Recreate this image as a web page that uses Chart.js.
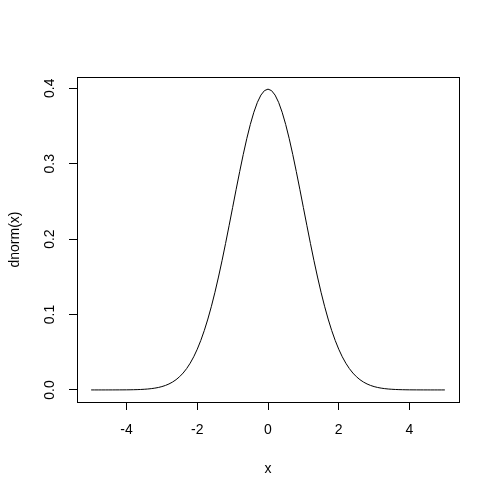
<!DOCTYPE html>
<html>
<head>
<meta charset="utf-8">
<script src="https://cdn.jsdelivr.net/npm/chart.js@4/dist/chart.umd.min.js"></script>
<style>
  body { margin: 0; background: #fff; }
  canvas { display: block; }
</style>
</head>
<body>
<canvas id="myChart" width="500" height="500"></canvas>
<script>
// curve, x from -5 to 5
var xs = [-5.0,-4.9,-4.8,-4.7,-4.6,-4.5,-4.4,-4.3,-4.2,-4.1,
  -4.0,-3.9,-3.8,-3.7,-3.6,-3.5,-3.4,-3.3,-3.2,-3.1,
  -3.0,-2.9,-2.8,-2.7,-2.6,-2.5,-2.4,-2.3,-2.2,-2.1,
  -2.0,-1.9,-1.8,-1.7,-1.6,-1.5,-1.4,-1.3,-1.2,-1.1,
  -1.0,-0.9,-0.8,-0.7,-0.6,-0.5,-0.4,-0.3,-0.2,-0.1,
  0.0,
  0.1,0.2,0.3,0.4,0.5,0.6,0.7,0.8,0.9,1.0,
  1.1,1.2,1.3,1.4,1.5,1.6,1.7,1.8,1.9,2.0,
  2.1,2.2,2.3,2.4,2.5,2.6,2.7,2.8,2.9,3.0,
  3.1,3.2,3.3,3.4,3.5,3.6,3.7,3.8,3.9,4.0,
  4.1,4.2,4.3,4.4,4.5,4.6,4.7,4.8,4.9,5.0];

var ys = [0.00000,0.00000,0.00000,0.00001,0.00001,0.00002,0.00002,0.00004,0.00006,0.00009,
  0.00013,0.00020,0.00029,0.00042,0.00061,0.00087,0.00123,0.00172,0.00238,0.00327,
  0.00443,0.00595,0.00792,0.01042,0.01358,0.01753,0.02239,0.02833,0.03547,0.04398,
  0.05399,0.06562,0.07895,0.09405,0.11092,0.12952,0.14973,0.17137,0.19419,0.21785,
  0.24197,0.26609,0.28969,0.31225,0.33322,0.35207,0.36827,0.38139,0.39104,0.39695,
  0.39894,
  0.39695,0.39104,0.38139,0.36827,0.35207,0.33322,0.31225,0.28969,0.26609,0.24197,
  0.21785,0.19419,0.17137,0.14973,0.12952,0.11092,0.09405,0.07895,0.06562,0.05399,
  0.04398,0.03547,0.02833,0.02239,0.01753,0.01358,0.01042,0.00792,0.00595,0.00443,
  0.00327,0.00238,0.00172,0.00123,0.00087,0.00061,0.00042,0.00029,0.00020,0.00013,
  0.00009,0.00006,0.00004,0.00002,0.00002,0.00001,0.00001,0.00000,0.00000,0.00000];

var xTicks = [-4, -2, 0, 2, 4];
var yTicks = [0.0, 0.1, 0.2, 0.3, 0.4];
var yTickLabels = ['0.0', '0.1', '0.2', '0.3', '0.4'];

var FONT = '"Liberation Sans", Arial, sans-serif';

var points = [];
for (var i = 0; i < xs.length; i++) {
  points.push({x: xs[i], y: ys[i]});
}

// box round the plot region and rotated y labels like base R
var rBox = {
  id: 'rBox',
  afterDraw: function(chart) {
    var ctx = chart.ctx;
    var a = chart.chartArea;
    ctx.save();
    ctx.strokeStyle = '#000';
    ctx.lineWidth = 1;
    ctx.strokeRect(Math.round(a.left) + 0.5, Math.round(a.top) + 0.5,
      Math.round(a.right - a.left), Math.round(a.bottom - a.top));

    var ys = chart.scales.y;
    ctx.fillStyle = '#000';
    ctx.font = '14px ' + FONT;
    ctx.textAlign = 'center';
    ctx.textBaseline = 'middle';
    for (var i = 0; i < yTicks.length; i++) {
      var py = ys.getPixelForValue(yTicks[i]);
      ctx.save();
      ctx.translate(50, py);
      ctx.rotate(-Math.PI / 2);
      ctx.fillText(yTickLabels[i], 0, 0);
      ctx.restore();
    }
    ctx.restore();
  }
};

var ctx = document.getElementById('myChart').getContext('2d');
var myChart = new Chart(ctx, {
  type: 'scatter',
  data: {
    datasets: [{
      data: points,
      showLine: true,
      borderColor: '#000',
      borderWidth: 1,
      pointRadius: 0,
      tension: 0,
      fill: false
    }]
  },
  options: {
    responsive: false,
    animation: false,
    layout: { padding: { top: 77, right: 41, left: 0, bottom: 0 } },
    plugins: { legend: { display: false }, tooltip: { enabled: false } },
    scales: {
      x: {
        type: 'linear',
        min: -5.4,
        max: 5.4,
        afterBuildTicks: function(s) { s.ticks = xTicks.map(function(v) { return {value: v}; }); },
        afterFit: function(s) { s.height = 98; },
        grid: { drawOnChartArea: false, drawTicks: true, tickLength: 8, color: '#000' },
        border: { display: true, color: '#000' },
        ticks: {
          color: '#000',
          font: { family: FONT, size: 14 },
          padding: 12,
          maxRotation: 0,
          callback: function(v) { return String(v); }
        },
        title: {
          display: true,
          text: 'x',
          color: '#000',
          font: { family: FONT, size: 14 },
          padding: { top: 0, bottom: 22 }
        }
      },
      y: {
        type: 'linear',
        min: -0.016,
        max: 0.415,
        afterBuildTicks: function(s) { s.ticks = yTicks.map(function(v) { return {value: v}; }); },
        afterFit: function(s) { s.width = 77; },
        grid: { drawOnChartArea: false, drawTicks: true, tickLength: 8, color: '#000' },
        border: { display: true, color: '#000' },
        ticks: { display: false },
        title: {
          display: true,
          text: 'dnorm(x)',
          color: '#000',
          font: { family: FONT, size: 14 },
          padding: { top: 7, bottom: 0 }
        }
      }
    }
  },
  plugins: [rBox]
});
</script>
</body>
</html>
